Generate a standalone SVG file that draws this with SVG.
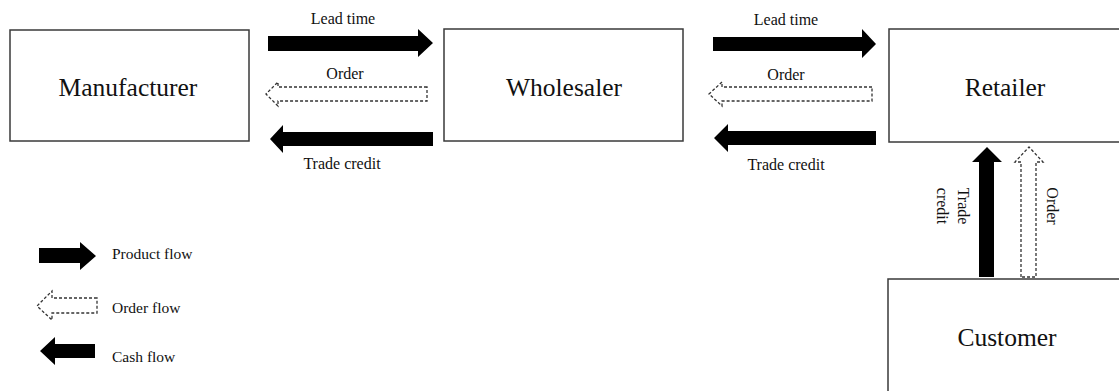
<svg xmlns="http://www.w3.org/2000/svg" width="1119" height="391" viewBox="0 0 1119 391">
<style>
.box{fill:#fff;stroke:#3a3a3a;stroke-width:1.5}
.big{font-family:"Liberation Serif","Times New Roman",serif;font-size:25.5px;fill:#111;text-anchor:middle;dominant-baseline:central}
.lbl{font-family:"Liberation Serif","Times New Roman",serif;font-size:16px;fill:#111;text-anchor:middle;dominant-baseline:central}
.leg{font-family:"Liberation Serif","Times New Roman",serif;font-size:15.5px;fill:#111;dominant-baseline:central}
.solid{fill:#000;stroke:none}
.dash{fill:#fff;stroke:#333;stroke-width:1.3;stroke-dasharray:3 2}
</style>
<rect width="1119" height="391" fill="#fff"/>
<g id="manufacturer"><rect class="box" x="10" y="30" width="239" height="111"/><text class="big" x="128" y="87">Manufacturer</text></g>
<g id="wholesaler"><rect class="box" x="444" y="29" width="239" height="112"/><text class="big" x="564" y="87">Wholesaler</text></g>
<g id="retailer"><rect class="box" x="889" y="29" width="240" height="113"/><text class="big" x="1005" y="87">Retailer</text></g>
<g id="customer"><rect class="box" x="888" y="279" width="240" height="120"/><text class="big" x="1007" y="337">Customer</text></g>
<g id="connectors">
<polygon class="solid" points="268,36 418,36 418,29 433,43 418,57 418,51 268,51"/>
<polygon class="dash" points="427,87 278,87 278,82 266,94 278,106 278,101 427,101"/>
<polygon class="solid" points="433,132 283,132 283,125 270,139 283,153 283,146 433,146"/>
<polygon class="solid" points="713,37 862,37 862,29 876,44 862,58 862,51 713,51"/>
<polygon class="dash" points="872,87 722,87 722,82 709,94 722,106 722,101 872,101"/>
<polygon class="solid" points="876,131 728,131 728,124 714,138 728,152 728,145 876,145"/>
<polygon class="solid" points="979,277 979,162 972,162 987,147 1002,162 994,162 994,277"/>
<polygon class="dash" points="1021,277 1021,162 1015,162 1029,147 1043,162 1036,162 1036,277"/>
<text class="lbl" x="343" y="18">Lead time</text>
<text class="lbl" x="345" y="73">Order</text>
<text class="lbl" x="342" y="163">Trade credit</text>
<text class="lbl" x="786" y="19">Lead time</text>
<text class="lbl" x="786" y="74">Order</text>
<text class="lbl" x="786" y="164">Trade credit</text>
<text class="lbl" transform="translate(963,206) rotate(90)">Trade</text>
<text class="lbl" transform="translate(942,206) rotate(90)">credit</text>
<text class="lbl" transform="translate(1052,206) rotate(90)">Order</text>
</g>
<g id="legend">
<polygon class="solid" points="39,248 80,248 80,242 96,256 80,270 80,263 39,263"/>
<polygon class="dash" points="97,298 52,298 52,291 37,306 52,320 52,313 97,313"/>
<polygon class="solid" points="95,344 55,344 55,337 40,351 55,365 55,358 95,358"/>
<text class="leg" x="112" y="253">Product flow</text>
<text class="leg" x="112" y="307">Order flow</text>
<text class="leg" x="112" y="356">Cash flow</text>
</g>
</svg>
